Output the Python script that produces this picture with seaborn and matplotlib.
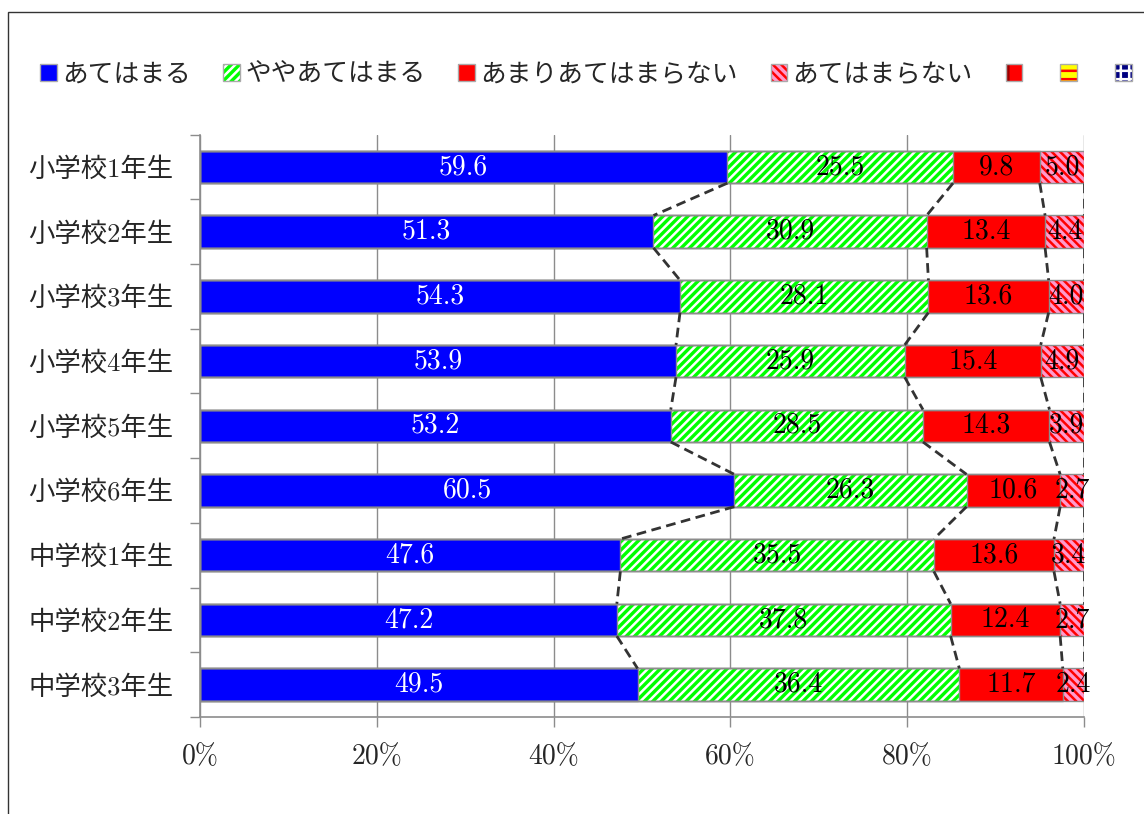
import numpy as np
import pandas as pd
import seaborn as sns
import matplotlib
matplotlib.use("Agg")
import matplotlib.pyplot as plt
from matplotlib.patches import Patch, Rectangle

categories = ['小学校1年生', '小学校2年生', '小学校3年生', '小学校4年生', '小学校5年生',
              '小学校6年生', '中学校1年生', '中学校2年生', '中学校3年生']
series_names = ['あてはまる', 'ややあてはまる', 'あまりあてはまらない', 'あてはまらない', '', '', '']
s1 = [59.6, 51.3, 54.3, 53.9, 53.2, 60.5, 47.6, 47.2, 49.5]
s2 = [25.5, 30.9, 28.1, 25.9, 28.5, 26.3, 35.5, 37.8, 36.4]
s3 = [9.8, 13.4, 13.6, 15.4, 14.3, 10.6, 13.6, 12.4, 11.7]
s4 = [5.0, 4.4, 4.0, 4.9, 3.9, 2.7, 3.4, 2.7, 2.4]
s5 = [0, 0, 0, 0, 0, 0, 0, 0, 0]
s6 = [0, 0, 0, 0, 0, 0, 0, 0, 0]
s7 = [0, 0, 0, 0, 0, 0, 0, 0, 0]
x_ticks = [0, 20, 40, 60, 80, 100]

sns.set_theme(style="white")
plt.rcParams['font.family'] = ['cmr10', 'Noto Sans CJK JP', 'DejaVu Sans']
plt.rcParams['hatch.linewidth'] = 1.8
plt.rcParams['axes.unicode_minus'] = False

vals = np.array([s1, s2, s3, s4, s5, s6, s7], dtype=float)
pct = vals / vals.sum(axis=0) * 100
cum = np.cumsum(pct, axis=0)

styles = [
    dict(face='#0000FF', hatchc='#0000FF', hatch=None),
    dict(face='#00FF00', hatchc='#FFFFFF', hatch='////'),
    dict(face='#FF0000', hatchc='#FF0000', hatch=None),
    dict(face='#FF99CC', hatchc='#FF0000', hatch='\\\\\\\\'),
    dict(face='#FF0000', hatchc='#990000', hatch='|'),
    dict(face='#FFFF00', hatchc='#FF0000', hatch='--'),
    dict(face='#000080', hatchc='#FFFFFF', hatch='++'),
]

fig = plt.figure(figsize=(11.44, 8.14), dpi=100)
ax = fig.add_axes([200/1144, 1-717/814, (1084-200)/1144, (717-134.6)/814])

bw = 0.5
for k in range(3, -1, -1):
    n0 = len(ax.patches)
    df = pd.DataFrame({'cat': categories, 'v': cum[k]})
    sns.barplot(data=df, x='v', y='cat', orient='h', width=bw, color=styles[k]['face'],
                saturation=1, ax=ax, errorbar=None)
    for p in ax.patches[n0:]:
        p.set_facecolor(styles[k]['face'])
        p.set_edgecolor(styles[k]['hatchc'])
        p.set_linewidth(0)
        if styles[k]['hatch']:
            p.set_hatch(styles[k]['hatch'])
        p.set_zorder(2)
# outlines
for k in range(3, -1, -1):
    n0 = len(ax.patches)
    df = pd.DataFrame({'cat': categories, 'v': cum[k]})
    sns.barplot(data=df, x='v', y='cat', orient='h', width=bw, color='#8c8c8c',
                saturation=1, ax=ax, errorbar=None)
    for p in ax.patches[n0:]:
        p.set_facecolor('none')
        p.set_edgecolor('#8c8c8c')
        p.set_linewidth(1.0)
        p.set_zorder(3)

# series lines
for k in range(4):
    for i in range(len(categories) - 1):
        ax.plot([cum[k][i], cum[k][i + 1]], [i + bw/2, i + 1 - bw/2], ls=(0, (3.5, 2)),
                color='#333333', lw=2, zorder=4)

# value labels
for k in range(4):
    for i in range(len(categories)):
        xc = cum[k][i] - pct[k][i] / 2
        ax.text(xc, i, f'{vals[k][i]:.1f}', ha='center', va='center', fontsize=20,
                color='white' if k == 0 else 'black', zorder=5)

ax.set_xlim(0, 100)
ax.set_ylim(len(categories) - 0.5, -0.5)
ax.set_xticks(x_ticks)
ax.set_xticklabels([f'{t}%' for t in x_ticks], fontsize=20)
ax.set_yticks(range(len(categories)))
ax.set_yticklabels(categories, fontsize=19)
ax.set_yticks(np.arange(-0.5, len(categories), 1), minor=True)
ax.tick_params(axis='y', which='major', length=0, pad=19)
ax.tick_params(axis='y', which='minor', length=7, color='#8c8c8c', width=1, left=True)
ax.tick_params(axis='x', which='major', length=7, color='#8c8c8c', width=1, bottom=True, pad=12)
ax.set_xlabel('')
ax.set_ylabel('')
ax.grid(axis='x', color='#8c8c8c', lw=1, zorder=0)
ax.set_axisbelow(True)
for s in ['top', 'right']:
    ax.spines[s].set_visible(False)
for s in ['left', 'bottom']:
    ax.spines[s].set_color('#8c8c8c')
    ax.spines[s].set_linewidth(1.2)

# legend
handles = []
for st in styles:
    h1 = Patch(facecolor=st['face'], edgecolor=st['hatchc'], hatch=st['hatch'], linewidth=0)
    h2 = Patch(facecolor='none', edgecolor='#aaaaaa', linewidth=1)
    handles.append((h1, h2))
fig.legend(handles, series_names, loc='center left', bbox_to_anchor=(40/1144, 1-75/814), ncol=7,
           frameon=False, fontsize=18.5, handlelength=0.65, handleheight=0.65,
           handletextpad=0.2, columnspacing=1.28, borderaxespad=0, borderpad=0)

fig.patches.append(Rectangle((8/1144, -0.1), 1.2, 1.1 - 12/814, transform=fig.transFigure,
                             fill=False, edgecolor='#333333', lw=1))

fig.savefig('out.png', dpi=100)
